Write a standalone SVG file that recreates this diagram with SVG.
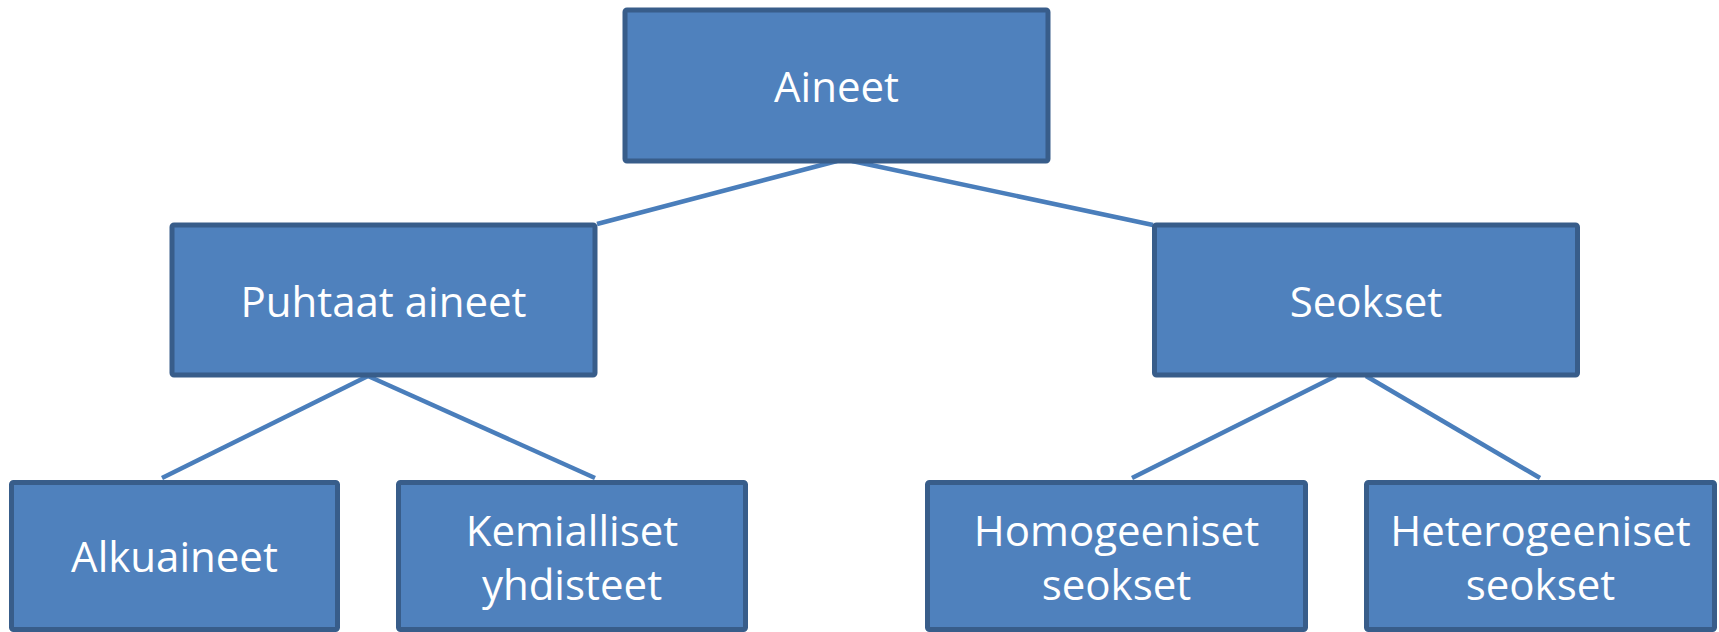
<svg xmlns="http://www.w3.org/2000/svg" width="1719" height="632" viewBox="0 0 1719 632">
<style>
.box{fill:#4F81BD;stroke:#385D8A;stroke-width:5}
.lbl{fill:#FFFFFF;font-family:"Open Sans","Noto Sans","DejaVu Sans",sans-serif;font-size:42px;text-anchor:middle}
.conn line{stroke:#4A7EBB;stroke-width:4.5;fill:none}
</style>
<rect width="1719" height="632" fill="#FFFFFF"/>
<g id="connectors" class="conn">
<line x1="837" y1="161" x2="597" y2="224"/>
<line x1="852" y1="161" x2="1153" y2="225"/>
<line x1="368" y1="376" x2="162" y2="478"/>
<line x1="368" y1="376" x2="595" y2="478"/>
<line x1="1336" y1="376" x2="1132" y2="478"/>
<line x1="1366" y1="376" x2="1540" y2="478"/>
</g>
<g id="aineet">
<rect class="box" x="625" y="10" width="423" height="151" rx="2"/>
<text class="lbl" x="836.5" y="102">Aineet</text>
</g>
<g id="puhtaat-aineet">
<rect class="box" x="172" y="225" width="423" height="150" rx="2"/>
<text class="lbl" x="383.5" y="317">Puhtaat aineet</text>
</g>
<g id="seokset">
<rect class="box" x="1154.5" y="225" width="423" height="150" rx="2"/>
<text class="lbl" x="1366" y="317">Seokset</text>
</g>
<g id="alkuaineet">
<rect class="box" x="11.5" y="482.5" width="326" height="147" rx="2"/>
<text class="lbl" x="174.5" y="572">Alkuaineet</text>
</g>
<g id="kemialliset-yhdisteet">
<rect class="box" x="398.5" y="482.5" width="347" height="147" rx="2"/>
<text class="lbl" x="572" y="546">Kemialliset</text>
<text class="lbl" x="572" y="600">yhdisteet</text>
</g>
<g id="homogeeniset-seokset">
<rect class="box" x="927.5" y="482.5" width="378" height="147" rx="2"/>
<text class="lbl" x="1116.5" y="546">Homogeeniset</text>
<text class="lbl" x="1116.5" y="600">seokset</text>
</g>
<g id="heterogeeniset-seokset">
<rect class="box" x="1366.5" y="482.5" width="348" height="147" rx="2"/>
<text class="lbl" x="1540.5" y="546">Heterogeeniset</text>
<text class="lbl" x="1540.5" y="600">seokset</text>
</g>
</svg>
